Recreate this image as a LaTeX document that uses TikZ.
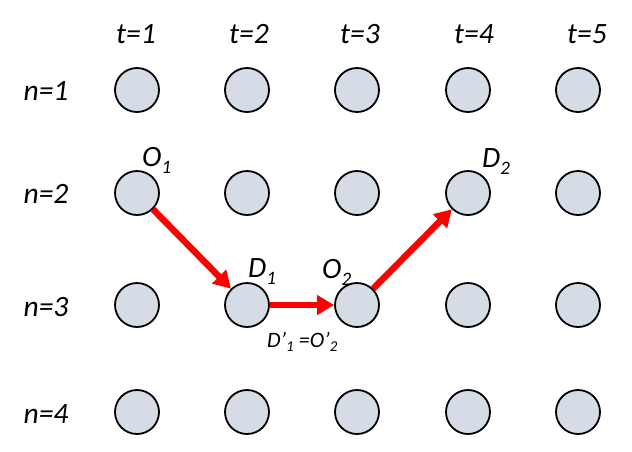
\documentclass[tikz,border=0pt]{standalone}
\usepackage{fontspec}
\setmainfont{Carlito}
\usetikzlibrary{arrows.meta}
\definecolor{dotfill}{RGB}{214,220,229}
\newcommand{\lowsub}[1]{\raisebox{-7pt}{\fontsize{19}{19}\selectfont #1}}
\newcommand{\tinysub}[1]{\raisebox{-4pt}{\fontsize{15}{15}\selectfont #1}}

\begin{document}
\begin{tikzpicture}[x=1pt,y=-1pt,
		dot/.style={circle, draw, line width=1.8pt, fill=dotfill, minimum size=44pt, inner sep=0pt},
		tag/.style={inner sep=0pt, font=\fontsize{29.5}{29.5}\selectfont\itshape},
		route/.style={line width=6.5pt, red, -{Triangle[length=17pt,width=19pt]}}]
		\useasboundingbox (0,0) rectangle (632,451);
		\path (137,90) node(c11)[dot]{} (247,90) node(c12)[dot]{} (357,90) node(c13)[dot]{}
		(468,90) node(c14)[dot]{} (578,90) node(c15)[dot]{}
		(137,193) node(c21)[dot]{} (247,193) node(c22)[dot]{} (357,193) node(c23)[dot]{}
		(468,193) node(c24)[dot]{} (578,193) node(c25)[dot]{}
		(137,305) node(c31)[dot]{} (247,305) node(c32)[dot]{} (357,305) node(c33)[dot]{}
		(468,305) node(c34)[dot]{} (578,305) node(c35)[dot]{}
		(137,412) node(c41)[dot]{} (247,412) node(c42)[dot]{} (357,412) node(c43)[dot]{}
		(468,412) node(c44)[dot]{} (578,412) node(c45)[dot]{};
		\path (136,43) node(t1)[tag, anchor=base]{t=1}
		(249,43) node(t2)[tag, anchor=base]{t=2}
		(360,43) node(t3)[tag, anchor=base]{t=3}
		(474,43) node(t4)[tag, anchor=base]{t=4}
		(587,43) node(t5)[tag, anchor=base]{t=5};
		\path (46,100) node(n1)[tag, anchor=base]{n=1}
		(46,203) node(n2)[tag, anchor=base]{n=2}
		(46,316) node(n3)[tag, anchor=base]{n=3}
		(46,423) node(n4)[tag, anchor=base]{n=4};
		\path (142,166) node(o1)[tag, anchor=base west]{O\lowsub{1}}
		(248,277) node(d1)[tag, anchor=base west]{D\lowsub{1}}
		(322,278) node(o2)[tag, anchor=base west]{O\lowsub{2}}
		(482,167) node(d2)[tag, anchor=base west]{D\lowsub{2}}
		(267,347) node(same)[tag, anchor=base west, font=\fontsize{22}{22}\selectfont\itshape]{D’\tinysub{1} =O’\tinysub{2}};
		\draw [route] (c21)--(c32);
		\draw [route] (c32)--(c33);
		\draw [route] (c33)--(c24);
	\end{tikzpicture}
\end{document}
